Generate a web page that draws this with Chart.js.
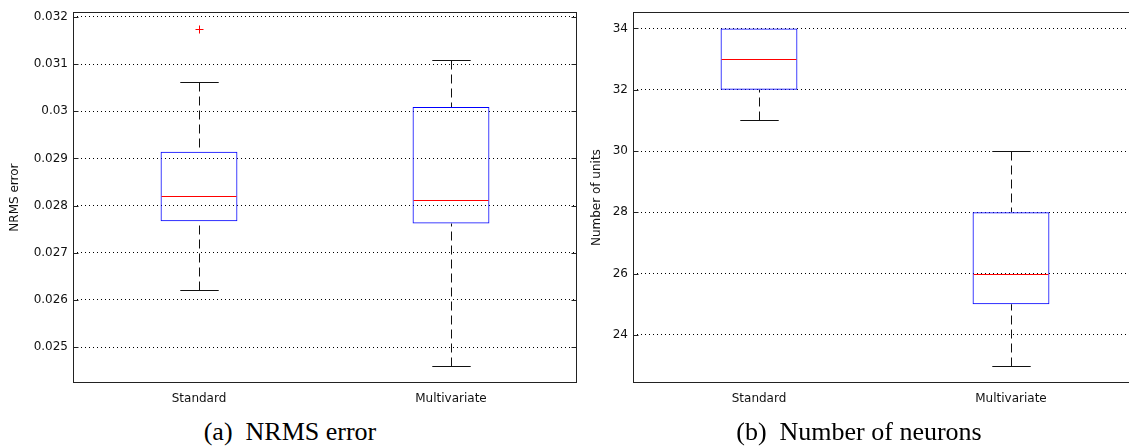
<!DOCTYPE html>
<html>
<head>
<meta charset="utf-8">
<script src="https://cdn.jsdelivr.net/npm/chart.js@4.4.1/dist/chart.umd.min.js"></script>
<style>
  html, body { margin: 0; padding: 0; background: #fff; overflow: hidden; }
  body { width: 1129px; height: 448px; position: relative; }
  .panel { position: absolute; top: 0; height: 415px; overflow: hidden; }
  .cap { position: absolute; top: 419px; width: 400px; text-align: center;
         font-family: "Liberation Serif", "Times New Roman", serif; font-size: 26px;
         line-height: 26px; color: #000; white-space: pre; }
</style>
</head>
<body>
<div class="panel" style="left:0px;width:590px"><canvas id="nrms" width="590" height="415"></canvas></div>
<!-- the right panel is cut at the page edge, as in the original figure -->
<div class="panel" style="left:582px;width:547px"><canvas id="units" width="560" height="415"></canvas></div>
<div class="cap" style="left:90px">(a)  NRMS error</div>
<div class="cap" style="left:659px">(b)  Number of neurons</div>
<script>
const categories = ["Standard", "Multivariate"];

// (a) NRMS error
const nrmsMin = [0.02622, 0.02461];
const nrmsQ1 = [0.02767, 0.02762];
const nrmsMedian = [0.02820, 0.02811];
const nrmsQ3 = [0.02914, 0.03009];
const nrmsMax = [0.03063, 0.03109];
const nrmsOutliers = [[0.03175], []];
const nrmsTickValues = [0.025, 0.026, 0.027, 0.028, 0.029, 0.030, 0.031, 0.032];
const nrmsTickLabels = ["0.025", "0.026", "0.027", "0.028", "0.029", "0.03", "0.031", "0.032"];

// (b) Number of units
const unitsMin = [31, 23];
const unitsQ1 = [32, 25];
const unitsMedian = [33, 26];
const unitsQ3 = [34, 28];
const unitsMax = [34, 30];
const unitsOutliers = [[], []];
const unitsTickValues = [24, 26, 28, 30, 32, 34];
const unitsTickLabels = ["24", "26", "28", "30", "32", "34"];

Chart.defaults.font.family = "'DejaVu Sans', sans-serif";
Chart.defaults.font.size = 12;
Chart.defaults.color = "#222";

// whiskers, caps, median, outliers, frame and inner tick marks
const boxStats = {
  id: "boxStats",
  beforeDatasetsDraw(chart, args, opts) {
    const { ctx, scales: { x, y } } = chart;
    const half = chart.getDatasetMeta(0).data[0].width / 2;
    ctx.save();
    ctx.strokeStyle = "#111";
    ctx.lineWidth = 1;
    opts.min.forEach((lo, i) => {
      const cx = Math.round(x.getPixelForValue(i)) + 0.5;
      const pairs = [[opts.max[i], opts.q3[i]], [lo, opts.q1[i]]];
      pairs.forEach(([end, edge]) => {
        if (end === edge) return;
        const yEnd = Math.round(y.getPixelForValue(end)) + 0.5;
        const yEdge = y.getPixelForValue(edge);
        ctx.setLineDash([9, 5]);
        ctx.beginPath();
        ctx.moveTo(cx, yEnd);
        ctx.lineTo(cx, yEdge);
        ctx.stroke();
        ctx.setLineDash([]);
        ctx.beginPath();
        ctx.moveTo(cx - half / 2, yEnd);
        ctx.lineTo(cx + half / 2, yEnd);
        ctx.stroke();
      });
    });
    ctx.restore();
  },
  afterDatasetsDraw(chart, args, opts) {
    const { ctx, chartArea: a, scales: { x, y } } = chart;
    const half = chart.getDatasetMeta(0).data[0].width / 2;
    ctx.save();
    ctx.lineWidth = 1;
    opts.median.forEach((m, i) => {
      const cx = x.getPixelForValue(i);
      const ym = Math.round(y.getPixelForValue(m)) + 0.5;
      ctx.strokeStyle = "#ff0000";
      ctx.beginPath();
      ctx.moveTo(cx - half + 1, ym);
      ctx.lineTo(cx + half - 1, ym);
      ctx.stroke();
      opts.out[i].forEach(v => {
        const py = Math.round(y.getPixelForValue(v)) + 0.5;
        const px = Math.round(cx) + 0.5;
        ctx.strokeStyle = "#ff0000";
        ctx.beginPath();
        ctx.moveTo(px - 4, py); ctx.lineTo(px + 4, py);
        ctx.moveTo(px, py - 4); ctx.lineTo(px, py + 4);
        ctx.stroke();
      });
    });
    ctx.strokeStyle = "#222";
    const L = Math.round(a.left) + 0.5, R = Math.round(a.right) - 0.5;
    const T = Math.round(a.top) + 0.5, B = Math.round(a.bottom) - 0.5;
    ctx.strokeRect(L, T, R - L, B - T);
    y.ticks.forEach(t => {
      const py = Math.round(y.getPixelForValue(t.value)) + 0.5;
      ctx.beginPath();
      ctx.moveTo(L, py); ctx.lineTo(L + 5, py);
      ctx.moveTo(R, py); ctx.lineTo(R - 5, py);
      ctx.stroke();
    });
    ctx.restore();
  }
};

function makeBoxChart(id, stats, yMin, yMax, tickValues, tickLabels, title, yWidth, padRight) {
  return new Chart(document.getElementById(id), {
    type: "bar",
    data: {
      labels: categories,
      datasets: [{
        data: stats.q1.map((q, i) => [q, stats.q3[i]]),
        backgroundColor: "rgba(0,0,0,0)",
        borderColor: "#0000ff",
        borderWidth: 1,
        borderSkipped: false,
        barPercentage: 0.305,
        categoryPercentage: 1
      }]
    },
    options: {
      responsive: false,
      animation: false,
      devicePixelRatio: 1,
      layout: { padding: { top: 9, right: padRight, bottom: 0, left: 0 } },
      plugins: {
        legend: { display: false },
        tooltip: { enabled: false },
        boxStats: stats
      },
      scales: {
        x: {
          grid: { display: false, drawTicks: false },
          border: { display: false },
          ticks: { padding: 9, color: "#111" },
          afterFit: s => { s.height = 32; }
        },
        y: {
          min: yMin,
          max: yMax,
          afterBuildTicks: s => { s.ticks = tickValues.map(v => ({ value: v })); },
          ticks: {
            padding: 5,
            color: "#111",
            callback: v => tickLabels[tickValues.findIndex(t => Math.abs(t - v) < 1e-9)]
          },
          grid: { color: "#000", lineWidth: 1, drawTicks: false },
          border: { display: false, dash: [1, 3] },
          title: { display: true, text: title, color: "#111", font: { size: 12 }, padding: { top: 8, bottom: 0 } },
          afterFit: s => { s.width = yWidth; }
        }
      }
    },
    plugins: [boxStats]
  });
}

makeBoxChart("nrms",
  { min: nrmsMin, q1: nrmsQ1, median: nrmsMedian, q3: nrmsQ3, max: nrmsMax, out: nrmsOutliers },
  0.02424, 0.0321, nrmsTickValues, nrmsTickLabels, "NRMS error", 73, 13);

makeBoxChart("units",
  { min: unitsMin, q1: unitsQ1, median: unitsMedian, q3: unitsQ3, max: unitsMax, out: unitsOutliers },
  22.43, 34.53, unitsTickValues, unitsTickLabels, "Number of units", 51, 5);
</script>
</body>
</html>
